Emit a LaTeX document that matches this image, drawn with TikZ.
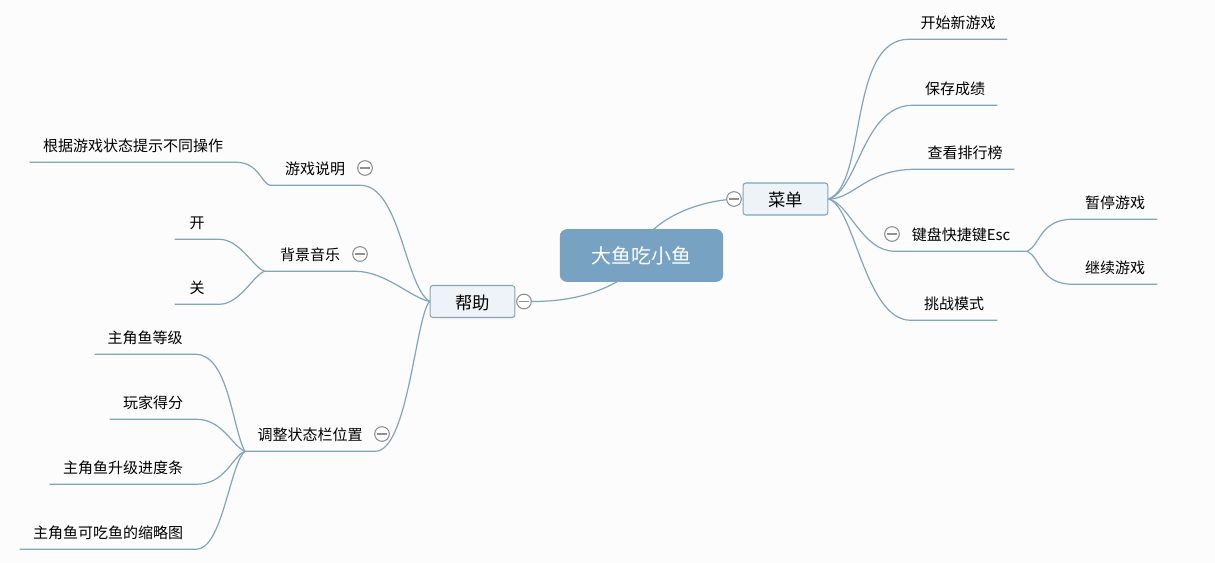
\documentclass[tikz,border=0pt]{standalone}
\usepackage{fontspec}
\setmainfont{Noto Sans CJK SC}
\definecolor{bgcol}{HTML}{FCFCFC}
\definecolor{rootcol}{HTML}{77A2C1}
\definecolor{boxcol}{HTML}{EEF3F7}
\definecolor{linkcol}{HTML}{80A5BF}
\definecolor{foldcol}{HTML}{8F8F8F}
\tikzset{
  rootbox/.style={draw=rootcol, fill=rootcol, rounded corners=5pt, text=white, font=\fontsize{15}{18}\selectfont, minimum width=122pt, minimum height=39pt, inner sep=0pt, text height=13pt, text depth=0.6pt},
  topicbox/.style={draw=linkcol, fill=boxcol, rounded corners=2pt, line width=0.8pt, font=\fontsize{13}{16}\selectfont, minimum width=63.5pt, minimum height=24pt, inner sep=0pt, text height=11.5pt, text depth=0pt},
  leaf/.style={font=\fontsize{11.25}{14}\selectfont, minimum width=#1*0.75pt, minimum height=25.5pt, inner sep=0pt, text height=10pt, text depth=0pt},
  fold/.style={circle, draw=foldcol, fill=white, line width=0.8pt, minimum size=11pt, inner sep=0pt, path picture={\draw[foldcol, line width=0.9pt] ([xshift=2pt]path picture bounding box.west) -- ([xshift=-2pt]path picture bounding box.east);}},
  link/.style={draw=linkcol, line width=0.9pt}
}
\begin{document}
\begin{tikzpicture}[x=0.75pt, y=-0.75pt]
      \fill[bgcol] (0,0) rectangle (1215,563);
      \useasboundingbox (0,0) rectangle (1215,563);

      \node[rootbox] (root) at (641.5,255.5) {大鱼吃小鱼};
      \node[topicbox] (menu) at (785.5,199) {菜单};
      \node[topicbox] (help) at (472.5,301.5) {帮助};
      \node[fold] (menufold) at (734,199) {};
      \node[fold] (helpfold) at (524,301.5) {};

      \node[leaf=98] (newgame) at (958,22) {开始新游戏};
      \node[leaf=84] (save) at (955,88) {保存成绩};
      \node[leaf=98] (rank) at (965,152) {查看排行榜};
      \node[leaf=132] (keys) at (961,234) {键盘快捷键Esc};
      \node[leaf=86] (challenge) at (954,303) {挑战模式};
      \node[leaf=84] (pause) at (1115,202) {暂停游戏};
      \node[leaf=84] (resume) at (1115,267) {继续游戏};
      \node[fold] (keysfold) at (892,234) {};

      \node[leaf=90] (gameinfo) at (315,168) {游戏说明};
      \node[leaf=206] (hint) at (133,145) {根据游戏状态提示不同操作};
      \node[leaf=90] (music) at (310,254) {背景音乐};
      \node[leaf=44] (on) at (197,222) {开};
      \node[leaf=44] (off) at (197,287) {关};
      \node[leaf=130] (status) at (310,434) {调整状态栏位置};
      \node[leaf=100] (level) at (145,337) {主角鱼等级};
      \node[leaf=86] (score) at (153,402) {玩家得分};
      \node[leaf=146] (progress) at (123,467) {主角鱼升级进度条};
      \node[leaf=176] (thumb) at (108,532) {主角鱼可吃鱼的缩略图};
      \node[fold] (gamefold) at (365,168) {};
      \node[fold] (musicfold) at (360,254) {};
      \node[fold] (statusfold) at (382,434) {};

      \draw[link] (root.65) .. controls +(20,-18) and +(-30,3) .. (menufold);
      \draw[link] (root.227) .. controls +(-25,14) and +(40,0) .. (helpfold);

      \draw[link] (menu.east) .. controls +(39,-14) and +(-61,0) .. (newgame.south west) -- (newgame.south east);
      \draw[link] (menu.east) .. controls +(30,-8) and +(-50,0) .. (save.south west) -- (save.south east);
      \draw[link] (menu.east) .. controls +(26,0) and +(-50,0) .. (rank.south west) -- (rank.south east);
      \draw[link] (menu.east) .. controls +(21,4) and +(-33,0) .. (keys.south west) -- (keys.south east);
      \draw[link] (menu.east) .. controls +(26,6) and +(-46,0) .. (challenge.south west) -- (challenge.south east);
      \draw[link] (keys.south east) .. controls +(13,-6) and +(-33,0) .. (pause.south west) -- (pause.south east);
      \draw[link] (keys.south east) .. controls +(13,6) and +(-33,0) .. (resume.south west) -- (resume.south east);

      \draw[link] (help.west) .. controls +(-25,-16) and +(40,0) .. (gameinfo.south east) -- (gameinfo.south west);
      \draw[link] (help.west) .. controls +(-19,-4) and +(30,0) .. (music.south east) -- (music.south west);
      \draw[link] (help.west) .. controls +(-14,14) and +(33,0) .. (status.south east) -- (status.south west);
      \draw[link] (gameinfo.south west) .. controls +(-8,-2) and +(22,0) .. (hint.south east) -- (hint.south west);
      \draw[link] (music.south west) .. controls +(-11,-3) and +(21,0) .. (on.south east) -- (on.south west);
      \draw[link] (music.south west) .. controls +(-11,3) and +(21,0) .. (off.south east) -- (off.south west);
      \draw[link] (status.south west) .. controls +(-13,-26) and +(33,0) .. (level.south east) -- (level.south west);
      \draw[link] (status.south west) .. controls +(-13,-6) and +(26,0) .. (score.south east) -- (score.south west);
      \draw[link] (status.south west) .. controls +(-13,6) and +(29,0) .. (progress.south east) -- (progress.south west);
      \draw[link] (status.south west) .. controls +(-15,14) and +(26,0) .. (thumb.south east) -- (thumb.south west);
    \end{tikzpicture}
\end{document}
